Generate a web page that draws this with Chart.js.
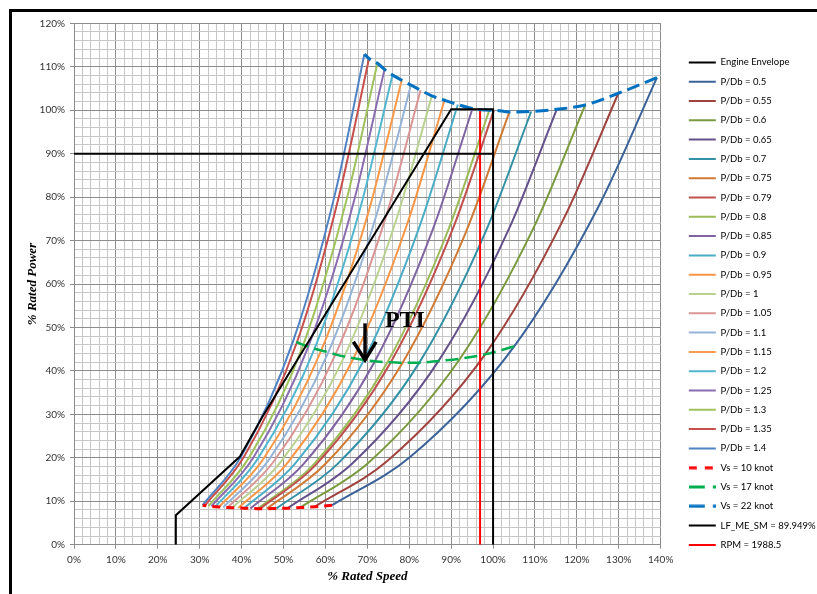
<!DOCTYPE html>
<html>
<head>
<meta charset="utf-8">
<script src="https://cdn.jsdelivr.net/npm/chart.js@4.4.1/dist/chart.umd.min.js"></script>
<style>
html,body{margin:0;padding:0;background:#fff;}
#wrap{width:817px;height:594px;position:relative;}
</style>
</head>
<body>
<div id="wrap"><canvas id="c"></canvas></div>
<script>
// ---------- DATA ----------
const pitchLabels = ['0.5','0.55','0.6','0.65','0.7','0.75','0.79','0.8','0.85','0.9','0.95','1','1.05','1.1','1.15','1.2','1.25','1.3','1.35','1.4'];
const pitchColors = ['#3b6299','#a0433f','#7a9a3e','#64508a','#3390a5','#cf7a35','#c0504d','#9bbb59','#8064a2','#4bacc6','#f79646','#b9d28f','#d99694','#95b3d7','#f89a4a','#52b6cf','#8a6db0','#9fc25d','#c8504c','#4f83c4'];

// % rated speed / % rated power of each propeller curve at ship speeds 10, 13, 17, 20, 22 knot
const rpm10 = [61.6, 57.5, 54.0, 51.0, 48.3, 46.0, 44.4, 43.9, 42.1, 40.6, 39.2, 37.8, 36.6, 35.6, 34.6, 33.7, 32.8, 32.1, 31.2, 30.7];
const pow10 = [9.1, 8.75, 8.55, 8.4, 8.35, 8.3, 8.3, 8.3, 8.35, 8.4, 8.45, 8.5, 8.55, 8.6, 8.7, 8.75, 8.85, 8.9, 9.0, 9.1];
const rpm13 = [80.2, 74.9, 70.4, 66.4, 62.9, 59.9, 57.8, 57.2, 54.8, 52.8, 51.0, 49.3, 47.7, 46.4, 45.1, 43.8, 42.7, 41.8, 40.6, 40.0];
const pow13 = [20.2, 19.4, 19.0, 18.7, 18.6, 18.5, 18.5, 18.5, 18.6, 18.7, 18.9, 19.0, 19.2, 19.4, 19.6, 19.7, 19.9, 20.1, 20.3, 20.5];
const rpm17 = [105.0, 98.1, 92.1, 87.0, 82.4, 78.4, 75.6, 74.8, 71.8, 69.2, 66.7, 64.5, 62.4, 60.7, 59.0, 57.4, 55.9, 54.7, 53.2, 52.3];
const pow17 = [45.6, 43.8, 42.8, 42.3, 41.9, 41.9, 42.0, 42.0, 42.2, 42.5, 42.9, 43.3, 43.8, 44.3, 44.7, 45.1, 45.6, 46.0, 46.6, 46.9];
const rpm20 = [125.2, 116.9, 109.8, 103.7, 98.2, 93.5, 90.2, 89.2, 85.6, 82.4, 79.5, 76.8, 74.4, 72.3, 70.4, 68.4, 66.7, 65.1, 63.3, 62.4];
const pow20 = [77.9, 75.1, 73.2, 72.5, 72.0, 71.9, 72.2, 72.2, 72.5, 73.1, 73.8, 74.5, 75.4, 76.3, 77.0, 77.8, 78.7, 79.6, 80.5, 81.2];
const rpm22 = [139.1, 129.9, 122.0, 115.2, 109.1, 103.9, 100.2, 99.1, 95.1, 91.6, 88.4, 85.4, 82.7, 80.4, 78.2, 76.0, 74.1, 72.4, 70.4, 69.3];
const pow22 = [107.5, 103.9, 101.2, 100.2, 99.7, 99.6, 100.0, 100.0, 100.4, 101.3, 102.3, 103.3, 104.6, 105.8, 106.9, 108.1, 109.4, 110.8, 111.9, 112.9];

const envelopeX = [24.3, 24.3, 39.6, 45.0, 90.0, 100.0, 100.0];
const envelopeY = [0, 6.8, 20.3, 29.5, 100.2, 100.2, 0];

const lfLabel = 'LF_ME_SM = 89.949%';
const lfLevel = 89.949;
const lfRangeX = [0, 100];
const rpmLabel = 'RPM = 1988.5';
const rpmLineX = 96.9;
const rpmRangeY = [0, 100];

const xAxisRange = [0, 140];
const yAxisRange = [0, 120];

// annotation (data units)
const ptiText = 'PTI';
const ptiPos = [74.2, 50.0];
const arrowShaft = [[69.45, 50.95], [69.45, 42.5]];
const arrowWings = [[66.66, 46.7], [69.45, 42.5], [72.08, 46.7]];

// ---------- BUILD ----------
const pts = (xs, ys) => xs.map((v, i) => ({x: v, y: ys[i]}));

// legend swatch for dashed series (Chart.js point-style legends ignore borderDash)
function dashSwatch(color, lw, dash) {
  const c = document.createElement('canvas');
  c.width = 27; c.height = 4;
  const g = c.getContext('2d');
  g.strokeStyle = color; g.lineWidth = lw; g.setLineDash(dash);
  g.beginPath(); g.moveTo(0, 2); g.lineTo(27, 2); g.stroke();
  return c;
}

const datasets = [];
datasets.push({label: 'Engine Envelope', data: pts(envelopeX, envelopeY), borderColor: '#000000', borderWidth: 2, tension: 0, order: 0});
pitchLabels.forEach((p, i) => {
  datasets.push({
    label: 'P/Db = ' + p,
    data: [{x: rpm10[i], y: pow10[i]}, {x: rpm13[i], y: pow13[i]}, {x: rpm17[i], y: pow17[i]}, {x: rpm20[i], y: pow20[i]}, {x: rpm22[i], y: pow22[i]}],
    borderColor: pitchColors[i], borderWidth: 2, cubicInterpolationMode: 'monotone', order: 10
  });
});
datasets.push({label: 'Vs = 10 knot', data: pts(rpm10, pow10), borderColor: '#ff0000', borderWidth: 3, borderDash: [8, 6], cubicInterpolationMode: 'monotone', order: 1,
  pointStyle: dashSwatch('#ff0000', 3, [8, 8])});
datasets.push({label: 'Vs = 17 knot', data: pts(rpm17, pow17), borderColor: '#00b050', borderWidth: 2.5, borderDash: [13, 6], cubicInterpolationMode: 'monotone', order: 1,
  pointStyle: dashSwatch('#00b050', 3, [16, 8])});
datasets.push({label: 'Vs = 22 knot', data: pts(rpm22, pow22), borderColor: '#0070c0', borderWidth: 3, borderDash: [13, 6], cubicInterpolationMode: 'monotone', order: 1,
  pointStyle: dashSwatch('#0070c0', 3, [16, 8])});
datasets.push({label: lfLabel, data: [{x: lfRangeX[0], y: lfLevel}, {x: lfRangeX[1], y: lfLevel}], borderColor: '#000000', borderWidth: 2, tension: 0, order: 2});
datasets.push({label: rpmLabel, data: [{x: rpmLineX, y: rpmRangeY[0]}, {x: rpmLineX, y: rpmRangeY[1]}], borderColor: '#ff0000', borderWidth: 2, tension: 0, order: 3});
datasets.forEach(d => {
  d.showLine = true; d.pointRadius = 0; d.pointHoverRadius = 0; d.pointHitRadius = 0; d.fill = false;
  if (!d.pointStyle) d.pointStyle = 'line';
});

const isMajor = v => Math.round(v) % 10 === 0;
const gridColor = c => isMajor(c.tick.value) ? '#8c8c8c' : '#c6c6c6';
const tickColor = c => isMajor(c.tick.value) ? '#8c8c8c' : 'rgba(0,0,0,0)';
const tickCb = v => isMajor(v) ? Math.round(v) + '%' : '';
const titleFont = {family: '"Liberation Serif", "Times New Roman", serif', size: 13, weight: 'bold', style: 'italic'};

const decor = {
  id: 'decor',
  beforeDraw(chart) {
    const {ctx, width, height} = chart;
    ctx.save();
    ctx.fillStyle = '#ffffff';
    ctx.fillRect(0, 0, width, height);
    ctx.strokeStyle = '#000000';
    ctx.lineWidth = 3;
    ctx.strokeRect(10.5, 10.5, width + 20, height + 20);
    ctx.restore();
  },
  afterDatasetsDraw(chart) {
    const {ctx, scales: {x, y}} = chart;
    const px = v => x.getPixelForValue(v), py = v => y.getPixelForValue(v);
    ctx.save();
    ctx.strokeStyle = '#000000';
    ctx.lineWidth = 3.5;
    ctx.lineCap = 'butt';
    ctx.beginPath();
    ctx.moveTo(px(arrowShaft[0][0]), py(arrowShaft[0][1]));
    ctx.lineTo(px(arrowShaft[1][0]), py(arrowShaft[1][1]));
    ctx.stroke();
    ctx.beginPath();
    arrowWings.forEach((p, i) => i ? ctx.lineTo(px(p[0]), py(p[1])) : ctx.moveTo(px(p[0]), py(p[1])));
    ctx.stroke();
    ctx.fillStyle = '#000000';
    ctx.font = 'bold 24px "Liberation Serif", "Times New Roman", serif';
    ctx.textBaseline = 'alphabetic';
    ctx.textAlign = 'left';
    ctx.fillText(ptiText, px(ptiPos[0]), py(ptiPos[1]));
    ctx.restore();
  }
};

Chart.defaults.font.family = 'Lato, "Open Sans", sans-serif';
new Chart(document.getElementById('c'), {
  type: 'scatter',
  data: {datasets},
  plugins: [decor],
  options: {
    responsive: true,
    maintainAspectRatio: false,
    animation: false,
    events: [],
    layout: {padding: {left: 12, top: 23.3, right: 0, bottom: 10}},
    plugins: {
      tooltip: {enabled: false},
      legend: {
        position: 'right',
        align: 'center',
        maxWidth: 138,
        labels: {
          usePointStyle: true,
          pointStyleWidth: 27,
          padding: 9.8,
          color: '#000000',
          font: {size: 9.5},
          sort: (a, b) => a.datasetIndex - b.datasetIndex
        }
      }
    },
    scales: {
      x: {
        type: 'linear', position: 'bottom', min: xAxisRange[0], max: xAxisRange[1],
        afterFit: s => { s.height = 39.3; },
        ticks: {stepSize: 2, autoSkip: false, maxRotation: 0, padding: 5, color: '#333333', font: {size: 10}, callback: tickCb},
        grid: {color: gridColor, tickColor: tickColor, tickLength: 4, lineWidth: 1},
        border: {color: '#8c8c8c'},
        title: {display: true, text: '% Rated Speed', color: '#000000', font: titleFont, padding: {top: 0, bottom: 0}}
      },
      y: {
        type: 'linear', position: 'left', min: yAxisRange[0], max: yAxisRange[1],
        afterFit: s => { s.width = 62; },
        ticks: {stepSize: 2, autoSkip: false, padding: 5, color: '#333333', font: {size: 10}, callback: tickCb},
        grid: {color: gridColor, tickColor: tickColor, tickLength: 4, lineWidth: 1},
        border: {color: '#8c8c8c'},
        title: {display: true, text: '% Rated Power', color: '#000000', font: titleFont, padding: {top: 13, bottom: 0}}
      },
      y2: {
        type: 'linear', position: 'right', display: true,
        afterFit: s => { s.width = 18.3; },
        grid: {display: false, drawTicks: false},
        ticks: {display: false},
        border: {display: false}
      }
    }
  }
});
</script>
</body>
</html>
